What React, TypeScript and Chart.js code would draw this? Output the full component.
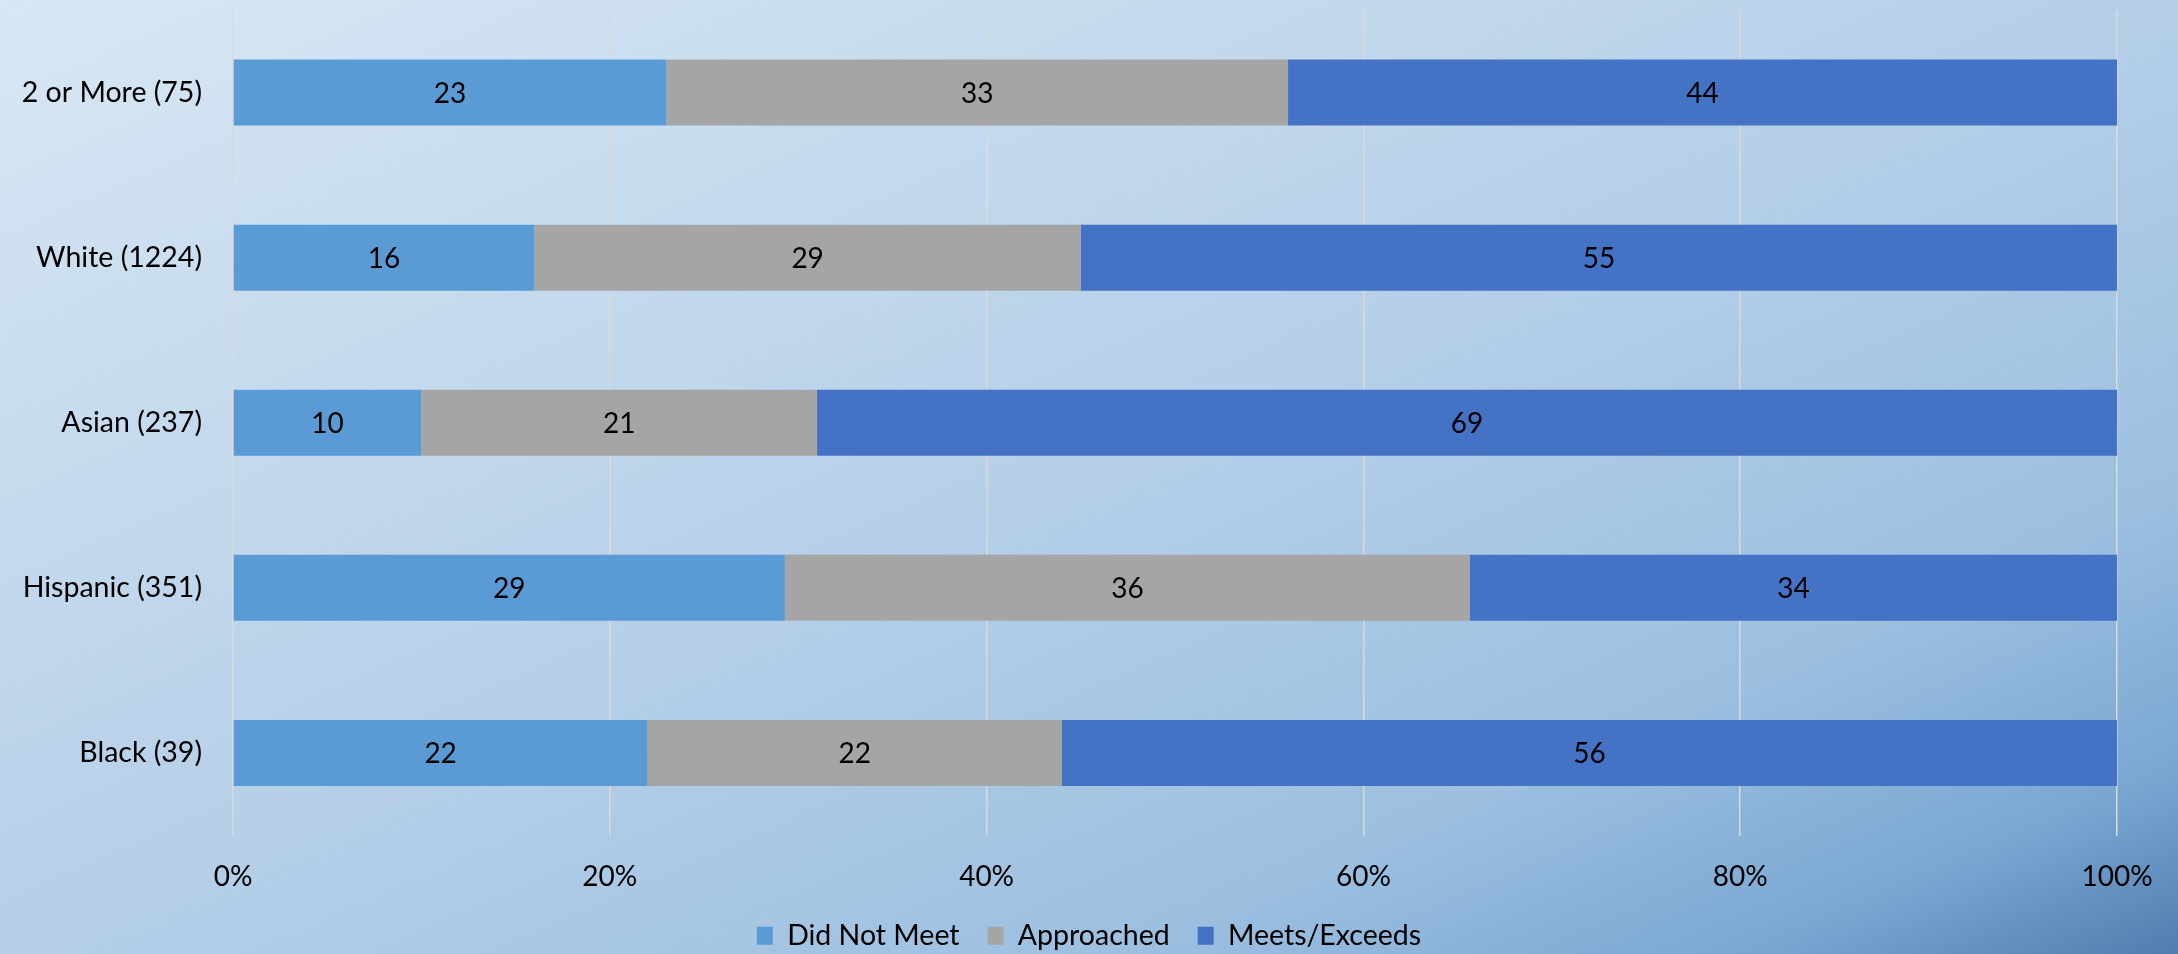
import React, { useEffect, useRef } from "react";
import { Chart, registerables } from "chart.js";

Chart.register(...registerables);

const categories = [
  "2 or More (75)",
  "White (1224)",
  "Asian (237)",
  "Hispanic (351)",
  "Black (39)",
];
const didNotMeet = [23, 16, 10, 29, 22];
const approached = [33, 29, 21, 36, 22];
const meetsExceeds = [44, 55, 69, 34, 56];
const seriesNames = ["Did Not Meet", "Approached", "Meets/Exceeds"];
const seriesColors = ["#5B9BD5", "#A5A5A5", "#4472C4"];
const xTicks = [0, 20, 40, 60, 80, 100];

const FONT = "Lato";

const rawSeries = [didNotMeet, approached, meetsExceeds];
const totals = categories.map((_, i) =>
  rawSeries.reduce((s, arr) => s + arr[i], 0)
);

const dataLabelPlugin = {
  id: "dataLabels",
  afterDatasetsDraw(chart: any) {
    const ctx = chart.ctx;
    ctx.save();
    ctx.font = `28px ${FONT}`;
    ctx.fillStyle = "#000000";
    ctx.textAlign = "center";
    ctx.textBaseline = "middle";
    chart.data.datasets.forEach((ds: any, di: number) => {
      const meta = chart.getDatasetMeta(di);
      meta.data.forEach((el: any, i: number) => {
        const p = el.getCenterPoint();
        ctx.fillText(String(ds.rawValues[i]), p.x, p.y + 1);
      });
    });
    ctx.restore();
  },
};

export default function App() {
  const canvasRef = useRef<HTMLCanvasElement | null>(null);

  useEffect(() => {
    if (!canvasRef.current) return;
    const chart = new Chart(canvasRef.current, {
      type: "bar",
      data: {
        labels: categories,
        datasets: rawSeries.map((arr, di) => ({
          label: seriesNames[di],
          data: arr.map((v, i) => (v / totals[i]) * 100),
          rawValues: arr,
          backgroundColor: seriesColors[di],
          borderWidth: 0,
          barPercentage: 0.4,
          categoryPercentage: 1,
        })) as any,
      },
      options: {
        indexAxis: "y",
        animation: false,
        responsive: false,
        devicePixelRatio: 1,
        layout: { padding: { top: 10, right: 0, left: 0, bottom: -6 } },
        scales: {
          x: {
            stacked: true,
            min: 0,
            max: 100,
            afterBuildTicks: (scale: any) => {
              scale.ticks = xTicks.map((v) => ({ value: v }));
            },
            afterFit: (scale: any) => {
              scale.height = 58;
            },
            grid: {
              color: "#D9D9D9",
              lineWidth: 1.5,
              drawTicks: false,
            },
            border: { display: false },
            ticks: {
              padding: 25,
              color: "#000000",
              font: { family: FONT, size: 28 },
              callback: (v: any) => `${v}%`,
            },
          },
          y: {
            stacked: true,
            afterFit: (scale: any) => {
              scale.width = 233;
              scale.paddingTop = 0;
              scale.paddingBottom = 0;
            },
            grid: { display: false, drawTicks: false },
            border: { display: false },
            ticks: {
              padding: 31,
              color: "#000000",
              font: { family: FONT, size: 28.5 },
            },
          },
          yRightSpace: {
            type: "category",
            position: "right",
            display: true,
            afterFit: (scale: any) => {
              scale.width = 61;
              scale.paddingTop = 0;
              scale.paddingBottom = 0;
            },
            grid: { display: false, drawTicks: false },
            border: { display: false },
            ticks: { display: false },
          },
        },
        plugins: {
          legend: {
            position: "bottom",
            labels: {
              color: "#000000",
              font: { family: FONT, size: 28.5 },
              boxWidth: 16,
              boxHeight: 18,
              padding: 28,
            },
          },
          tooltip: { enabled: false },
        },
      } as any,
      plugins: [dataLabelPlugin],
    });
    return () => chart.destroy();
  }, []);

  return (
    <div
      style={{
        position: "absolute",
        left: 0,
        top: 0,
        width: 2178,
        height: 954,
        background:
          "linear-gradient(to bottom right, #D8E7F4 0%, #B5CFE8 50%, #9CBFE0 76%, #7AA7D2 90%, #4F7EAF 100%)",
      }}
    >
      <canvas
        ref={canvasRef}
        width={2178}
        height={954}
        style={{ display: "block", width: 2178, height: 954 }}
      />
    </div>
  );
}
